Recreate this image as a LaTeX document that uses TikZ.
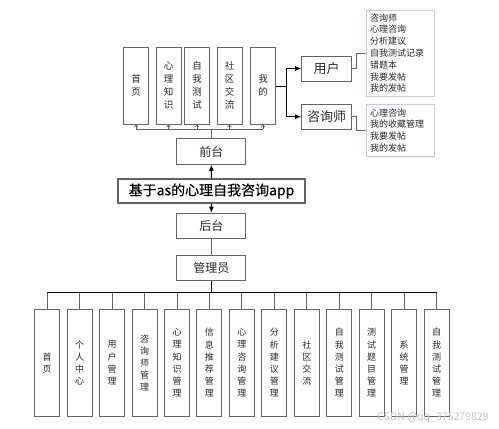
\documentclass[tikz,border=0pt]{standalone}
\usepackage{fontspec}
\setmainfont{Noto Sans CJK SC}
\newfontfamily\titlefont[BoldFont=Noto Sans CJK SC, BoldFeatures={FakeBold=0.25}]{Noto Sans CJK SC}
\usetikzlibrary{arrows.meta,shadows}
\definecolor{boxline}{RGB}{100,100,100}
\definecolor{noteline}{RGB}{200,206,216}
\definecolor{txt}{RGB}{40,40,40}
\tikzset{
  vbox/.style={draw=boxline, line width=1pt, fill=white, inner sep=0pt, minimum width=25pt,
    align=center, text=txt},
  topbox/.style={vbox, minimum height=77pt, font=\fontsize{9.5}{13}\selectfont},
  botbox/.style={vbox, minimum height=107.7pt, font=\fontsize{9}{12.2}\selectfont},
  hbox/.style={draw=boxline, line width=1pt, fill=white, inner sep=0pt, minimum width=69pt,
    minimum height=25.5pt, font=\fontsize{12}{14}\selectfont, text=txt},
  rolebox/.style={draw=boxline, line width=1pt, fill=white, inner sep=0pt, minimum width=50pt,
    minimum height=25pt, font=\fontsize{13}{15}\selectfont, text=txt},
  notebox/.style={draw=noteline, line width=0.8pt, fill=white, inner sep=0pt, minimum width=68pt,
    text width=60pt, align=left, font=\fontsize{9}{11.8}\selectfont, text=txt,
    drop shadow={opacity=0.12, shadow xshift=1pt, shadow yshift=-1pt}},
  bus/.style={draw=black, line width=1pt},
  drop/.style={draw=boxline, line width=1pt},
  mainarrow/.style={draw=black, line width=1pt, -{Latex[length=6pt,width=5pt]}},
  smallarrow/.style={draw=boxline, line width=0.8pt, -{Straight Barb[length=2pt,width=4pt]}},
  notecon/.style={draw=boxline, line width=0.8pt},
}
\begin{document}
\begin{tikzpicture}[x=1pt,y=-1pt]
\useasboundingbox (0,0) rectangle (499,429);
\fill[white] (0,0) rectangle (499,429);

% top boxes
\node[topbox] (t1) at (136,85.5) {首\\页};
\node[topbox] (t2) at (168.5,85.5) {心\\理\\知\\识};
\node[topbox] (t3) at (197,85.5) {自\\我\\测\\试};
\node[topbox] (t4) at (229.5,85.5) {社\\区\\交\\流};
\node[topbox] (t5) at (263,85.5) {我\\的};

% central column
\node[hbox] (front) at (211.3,151.5) {前台};
\node[draw=boxline, line width=1.5pt, fill=white, inner sep=0pt, minimum width=187pt,
  minimum height=24pt, font=\titlefont\bfseries\fontsize{14}{16}\selectfont, text=black] (title) at (211.5,191) {基于as的心理自我咨询app};
\node[hbox] (back) at (211.3,226) {后台};
\node[hbox] (admin) at (211.3,268) {管理员};

% roles
\node[rolebox] (user) at (326.7,68.5) {用户};
\node[rolebox] (cons) at (326.7,116.7) {咨询师};

% notes
\node[notebox, minimum height=86pt] (note1) at (400,53) {咨询师\\心理咨询\\分析建议\\自我测试记录\\错题本\\我要发帖\\我的发帖};
\node[notebox, minimum height=52.7pt] (note2) at (400,130.3) {心理咨询\\我的收藏管理\\我要发帖\\我的发帖};

% bottom boxes
\foreach \i/\lab in {1/{首\\页},2/{个\\人\\中\\心},3/{用\\户\\管\\理},4/{咨\\询\\师\\管\\理},
  5/{心\\理\\知\\识\\管\\理},6/{信\\息\\推\\荐\\管\\理},7/{心\\理\\咨\\询\\管\\理},
  8/{分\\析\\建\\议\\管\\理},9/{社\\区\\交\\流},10/{自\\我\\测\\试\\管\\理},
  11/{测\\试\\题\\目\\管\\理},12/{系\\统\\管\\理},13/{自\\我\\测\\试\\管\\理}}
  \node[botbox] (b\i) at ({47.2+32.45*(\i-1)},362.85) {\lab};

% coordinates
\coordinate (tbus) at (211.3,129);
\coordinate (rj) at (286,86);
\coordinate (bbus) at (211.3,292.7);

% top bus
\draw[drop] (front.north) -- (tbus);
\draw[drop] (t1.south |- tbus) -- (t5.south |- tbus);
\foreach \i in {1,...,5} \draw[smallarrow] (t\i.south |- tbus) -- (t\i.south);

% right branch
\draw[bus] (t5.east |- rj) -- (rj);
\draw[bus] (rj |- user) -- (rj |- cons);
\draw[mainarrow] (rj |- user) -- (user.west);
\draw[mainarrow] (rj |- cons) -- (cons.west);

% note connectors
\draw[notecon] (user.east) -- ++(4.5,0) |- (note1.west);
\draw[notecon] (cons.east) -- ++(4.5,0) |- (note2.west);

% central arrows
\draw[mainarrow] (title.north) -- (front.south);
\draw[mainarrow] (title.south) -- (back.north);
\draw[drop] (back.south) -- (admin.north);

% bottom bus
\draw[bus] (admin.south) -- (bbus);
\draw[bus] (b1.north |- bbus) -- (b13.north |- bbus);
\foreach \i in {1,...,13} \draw[drop] (b\i.north |- bbus) -- (b\i.north);

% watermark
\node[text=gray!45, font=\fontsize{10.5}{12}\selectfont, inner sep=0pt] (wm) at (433,418) {CSDN @qq\_375279829};
\end{tikzpicture}
\end{document}
